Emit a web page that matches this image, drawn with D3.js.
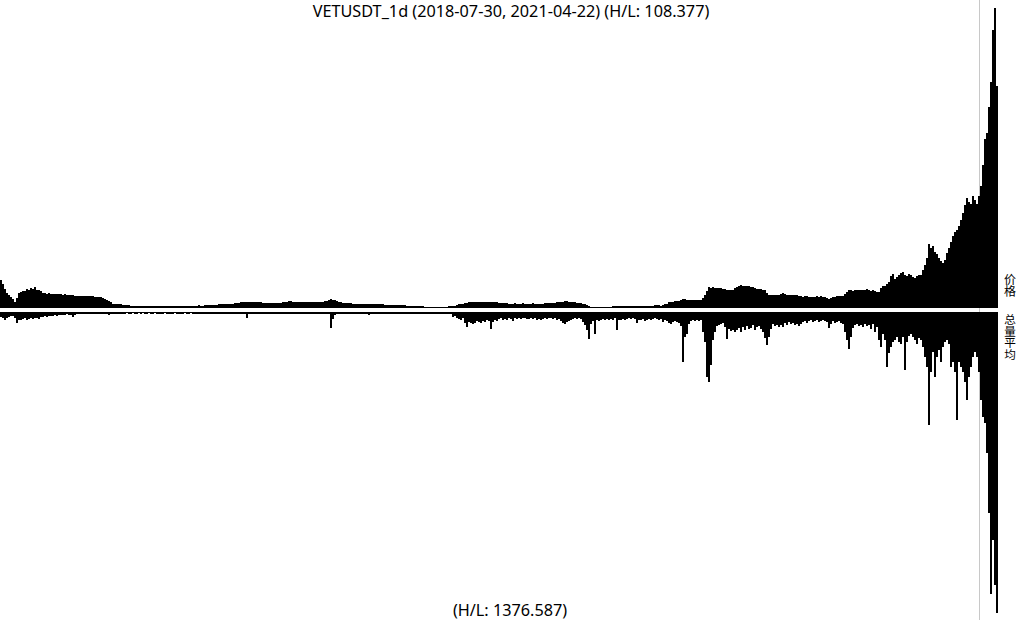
<!DOCTYPE html>
<html><head><meta charset="utf-8">
<script src="https://cdn.jsdelivr.net/npm/d3@7"></script>
<style>html,body{margin:0;padding:0;background:#fff;overflow:hidden}</style>
</head><body>
<svg id="c" width="1024" height="620"></svg>
<script>
// ---- data (2-day buckets, 2018-07-30 .. 2021-04-22) ----
const titleText = "VETUSDT_1d (2018-07-30, 2021-04-22) (H/L: 108.377)";
const volumeText = "(H/L: 1376.587)";
const priceMax = 108.377;
const volumeMax = 1376.587;
const priceLabel = "价格";
const volumeLabel = "总量平均";

const price = [
10.2,8.7,6.9,5.4,4.7,4.0,3.3,2.2,3.6,5.4,
5.8,6.0,6.2,6.9,6.5,7.3,6.9,7.6,6.5,6.4,
6.2,5.4,5.4,5.1,5.3,5.1,5.2,5.1,4.9,4.9,
4.9,4.8,4.9,4.8,4.7,4.6,4.6,4.5,4.5,4.5,
4.5,4.3,4.4,4.2,4.2,4.2,4.2,4.1,4.1,4.0,
3.8,3.6,3.3,3.0,2.5,2.2,1.6,1.5,1.4,1.3,
1.3,1.2,1.1,1.1,1.0,0.9,0.8,0.7,0.7,0.6,
0.6,0.7,0.8,0.9,0.9,0.8,0.9,0.9,0.8,0.8,
0.8,0.8,0.8,0.9,0.8,0.8,0.8,0.9,0.8,0.8,
0.8,0.8,0.9,0.9,0.8,0.9,0.9,0.9,0.9,1.0,
0.9,0.9,1.0,1.1,1.1,1.2,1.2,1.2,1.2,1.3,
1.3,1.4,1.5,1.6,1.6,1.6,1.6,1.7,1.8,1.9,
2.0,2.2,2.2,2.3,2.2,2.2,2.0,2.2,2.2,2.0,
2.0,1.9,1.9,1.8,1.8,1.8,1.9,1.8,1.8,1.9,
1.9,2.0,2.2,2.3,2.4,2.4,2.3,2.3,2.2,2.2,
2.2,2.3,2.3,2.2,2.2,2.3,2.3,2.2,2.2,2.3,
2.3,2.3,2.4,2.7,3.0,3.3,3.0,2.8,2.4,2.2,
2.0,1.9,1.8,1.8,1.8,1.7,1.6,1.6,1.5,1.5,
1.5,1.5,1.5,1.4,1.4,1.3,1.3,1.3,1.3,1.3,
1.3,1.3,1.2,1.2,1.2,1.2,1.1,1.1,1.1,1.1,
1.1,1.1,1.0,0.9,0.9,0.8,0.8,0.7,0.7,0.6,
0.6,0.6,0.5,0.5,0.5,0.5,0.5,0.5,0.5,0.5,
0.5,0.5,0.5,0.5,0.6,0.7,0.8,0.9,1.1,1.3,
1.5,1.6,1.7,1.8,2.0,2.2,2.3,2.2,2.3,2.2,
2.2,2.3,2.0,2.2,2.3,2.2,2.0,2.0,2.2,1.9,
1.8,1.8,1.7,1.7,1.6,1.6,1.6,1.7,1.6,1.6,
1.6,1.7,1.6,1.6,1.6,1.6,1.7,1.6,1.6,1.6,
1.6,1.6,1.7,1.7,1.8,1.8,1.8,1.9,2.0,2.0,
2.2,2.3,2.4,2.4,2.3,2.2,2.2,2.0,1.9,1.8,
1.7,1.6,1.5,1.1,0.7,0.5,0.4,0.4,0.4,0.4,
0.4,0.4,0.4,0.5,0.5,0.5,0.6,0.6,0.7,0.7,
0.7,0.7,0.7,0.7,0.8,0.8,0.8,0.8,0.9,0.9,
0.9,0.9,0.9,0.9,0.9,0.9,0.9,1.0,1.1,1.1,
0.8,1.1,1.3,1.6,2.0,2.2,2.3,2.4,2.4,2.5,
2.9,3.4,3.1,2.9,2.9,2.9,3.0,3.0,3.0,3.0,
3.0,3.6,4.7,6.2,7.6,7.3,7.5,7.3,7.3,7.1,
7.1,6.7,6.9,6.6,6.6,6.4,6.5,7.1,7.5,7.8,
8.4,8.0,7.8,7.8,7.8,7.6,7.5,7.3,6.9,7.0,
6.7,6.5,6.4,5.4,4.8,4.6,4.6,4.6,4.6,4.6,
5.1,5.4,4.9,4.7,4.6,4.7,4.7,4.7,4.6,4.5,
4.3,4.1,4.2,4.2,4.1,4.0,4.0,4.1,4.2,4.1,
4.2,4.1,3.8,3.5,3.4,3.7,4.0,4.1,4.2,4.2,
4.2,4.5,5.1,5.8,6.4,6.6,6.3,6.4,6.5,6.6,
6.6,6.4,6.6,6.7,6.6,6.3,6.4,6.0,5.8,5.7,
7.2,7.8,8.0,8.7,9.5,11.6,12.3,10.5,11.1,12.0,
12.7,13.0,12.0,11.6,12.3,12.0,11.2,10.9,11.6,12.0,
12.0,13.8,15.6,18.1,23.2,21.7,22.5,20.3,19.6,18.1,
17.0,16.3,17.4,19.9,21.7,23.9,26.1,27.5,28.3,29.7,
31.9,34.4,37.3,39.9,38.4,37.7,40.6,39.1,37.7,40.6,
44.2,51.5,60.9,63.4,72.5,81.6,100.4,108.377,80.1
];

const volume = [
23,27,37,27,23,18,18,27,50,37,
37,32,27,37,32,27,32,27,27,32,
23,23,18,23,18,18,18,14,18,14,
14,14,14,11,14,14,23,14,11,11,
11,11,9,11,9,9,11,9,9,9,
9,9,11,9,14,9,9,7,7,7,
7,7,7,6,7,7,6,7,7,6,
7,6,7,7,6,7,7,6,7,7,
7,7,6,7,7,9,7,6,7,7,
7,7,6,7,7,6,7,7,9,7,
7,9,7,9,9,7,9,9,7,9,
9,9,11,9,9,11,9,11,9,11,
11,9,11,26,11,9,11,11,9,11,
11,9,11,11,9,11,9,11,9,9,
9,11,9,9,11,9,9,11,9,9,
9,9,7,9,9,7,9,9,7,9,
9,9,7,9,9,73,32,14,9,7,
7,7,9,7,7,9,7,7,7,7,
7,7,9,7,14,9,7,7,7,7,
7,7,7,9,7,7,9,7,7,7,
7,9,7,7,7,9,7,7,7,9,
7,7,9,7,7,7,9,7,7,7,
7,7,9,9,9,11,23,18,27,32,
37,27,50,69,46,50,55,50,41,46,
50,41,46,37,41,78,46,37,41,32,
27,37,32,37,27,32,41,27,32,27,
32,27,27,32,32,27,32,27,37,32,
37,32,27,32,27,27,32,27,37,32,
41,50,55,46,41,37,32,27,32,27,
32,46,59,82,123,55,41,100,37,41,
37,32,37,32,37,32,37,27,82,37,
37,32,37,32,27,32,27,32,50,37,
37,32,41,37,32,37,32,27,32,37,
32,46,37,41,50,55,46,41,46,50,
64,229,114,101,55,41,37,41,37,41,
37,91,137,297,320,242,128,91,64,59,
55,50,69,123,78,87,82,91,82,73,
91,69,82,64,78,73,59,82,69,64,
78,91,119,151,114,78,55,64,59,69,
59,69,50,59,46,55,50,59,55,64,
55,46,41,50,41,37,46,41,37,46,
41,37,41,46,73,55,41,50,46,41,
50,55,91,128,169,114,73,59,55,64,
59,69,55,64,59,78,55,91,69,128,
160,101,128,251,187,160,137,128,114,137,
146,114,265,137,110,101,114,128,146,119,
128,160,206,251,517,274,183,297,206,174,
229,160,137,128,146,251,229,274,494,229,
251,274,320,402,297,251,206,183,206,274,
402,480,507,645,919,1290,1043,1248,1376.587
];

// ---- drawing ----
const svg = d3.select("#c");
const W = 1024, H = 620;
const idx = d3.range(price.length);

const x = d3.scaleBand().domain(idx).range([0, 998]).paddingInner(0).paddingOuter(0);
const yP = d3.scaleLinear().domain([0, priceMax]).range([308, 8]);
const yV = d3.scaleLinear().domain([0, volumeMax]).range([312, 613]);

// right separator line
svg.append("line")
  .attr("x1", 979.5).attr("x2", 979.5).attr("y1", 0).attr("y2", H)
  .attr("stroke", "#c8c8c8").attr("stroke-width", 1);

svg.append("g").attr("shape-rendering", "crispEdges")
  .selectAll("rect").data(idx).join("rect")
  .attr("x", i => x(i))
  .attr("width", x.bandwidth())
  .attr("y", i => yP(price[i]))
  .attr("height", i => Math.max(1, yP(0) - yP(price[i])))
  .attr("fill", "#000");

svg.append("g").attr("shape-rendering", "crispEdges")
  .selectAll("rect").data(idx).join("rect")
  .attr("x", i => x(i))
  .attr("width", x.bandwidth())
  .attr("y", yV(0))
  .attr("height", i => Math.max(1, yV(volume[i]) - yV(0)))
  .attr("fill", "#000");

// texts
const font = "'Segoe UI', 'Noto Sans', 'Open Sans', sans-serif";
const title = svg.append("text")
  .attr("x", 511).attr("y", 17)
  .attr("text-anchor", "middle")
  .attr("font-family", font).attr("font-size", 16)
  .attr("fill", "#000")
  .text(titleText);
const wT = title.node().getComputedTextLength();
const fs = 16 * 397 / wT;
title.attr("font-size", fs);

svg.append("text")
  .attr("x", 510).attr("y", 616)
  .attr("text-anchor", "middle")
  .attr("font-family", font).attr("font-size", fs)
  .attr("fill", "#000")
  .text(volumeText);

const cjk = "'Noto Sans CJK SC', sans-serif";
svg.append("text")
  .attr("x", 1010).attr("y", 273)
  .attr("writing-mode", "tb")
  .style("writing-mode", "vertical-rl")
  .attr("font-family", cjk).attr("font-size", 12).attr("fill", "#000")
  .text(priceLabel);

svg.append("text")
  .attr("x", 1010).attr("y", 314)
  .attr("writing-mode", "tb")
  .style("writing-mode", "vertical-rl")
  .attr("font-family", cjk).attr("font-size", 11.6).attr("fill", "#000")
  .text(volumeLabel);
</script>
</body></html>
